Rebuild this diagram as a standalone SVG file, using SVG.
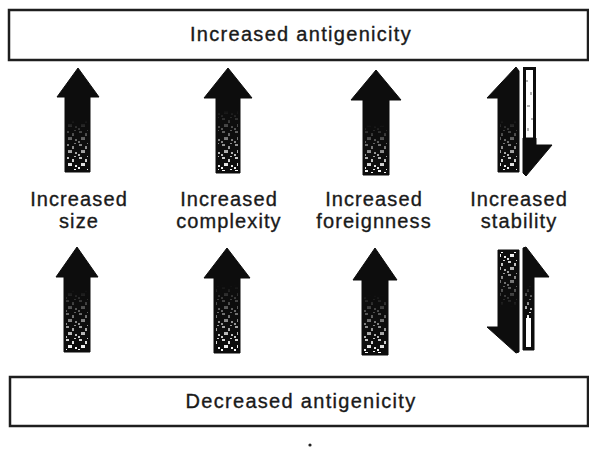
<svg xmlns="http://www.w3.org/2000/svg" width="589" height="450" viewBox="0 0 589 450">
<style>
.box{fill:#fff;stroke:#1e1e1e;stroke-width:2.5}
.t{font-family:"Liberation Sans",Arial,Helvetica,sans-serif;font-size:20px;fill:#1a1a1a;stroke:#1a1a1a;stroke-width:0.35;text-anchor:middle;letter-spacing:1.3px}
.lb{font-family:"Liberation Sans",Arial,Helvetica,sans-serif;font-size:20px;fill:#1a1a1a;stroke:#1a1a1a;stroke-width:0.35;text-anchor:middle;letter-spacing:1.1px}
.ar{fill:#0d0d0d;stroke:#0d0d0d;stroke-width:1;stroke-linejoin:round}
.sp{fill:url(#spk)}
</style>
<defs>
<pattern id="spk" width="13" height="13" patternUnits="userSpaceOnUse">
<rect x="1" y="1" width="3" height="2" fill="#fff"/>
<rect x="7" y="3" width="2" height="3" fill="#fff"/>
<rect x="3" y="7" width="4" height="3" fill="#fff"/>
<rect x="10" y="9" width="2" height="2" fill="#fff"/>
<rect x="9" y="0" width="2" height="1" fill="#fff"/>
<rect x="0" y="11" width="2" height="2" fill="#fff"/>
</pattern>
<linearGradient id="gUp" x1="0" y1="0" x2="0" y2="1">
<stop offset="0" stop-color="#000"/>
<stop offset="0.5" stop-color="#777"/>
<stop offset="1" stop-color="#fff"/>
</linearGradient>
<linearGradient id="gDown" x1="0" y1="1" x2="0" y2="0">
<stop offset="0" stop-color="#000"/>
<stop offset="0.5" stop-color="#777"/>
<stop offset="1" stop-color="#fff"/>
</linearGradient>
<mask id="fadeUp" maskContentUnits="objectBoundingBox"><rect width="1" height="1" fill="url(#gUp)"/></mask>
<mask id="fadeDown" maskContentUnits="objectBoundingBox"><rect width="1" height="1" fill="url(#gDown)"/></mask>
</defs>

<g id="increased-antigenicity">
<rect class="box" x="9" y="10" width="579" height="50"/>
<text class="t" x="301" y="41">Increased antigenicity</text>
</g>

<g id="decreased-antigenicity">
<rect class="box" x="10" y="377" width="578" height="49"/>
<text class="t" x="301" y="408">Decreased antigenicity</text>
</g>

<g id="label-size">
<text class="lb" x="79" y="206">Increased</text>
<text class="lb" x="79" y="228">size</text>
</g>
<g id="label-complexity">
<text class="lb" x="229" y="206">Increased</text>
<text class="lb" x="229" y="228">complexity</text>
</g>
<g id="label-foreignness">
<text class="lb" x="374" y="206">Increased</text>
<text class="lb" x="374" y="228">foreignness</text>
</g>
<g id="label-stability">
<text class="lb" x="519" y="206">Increased</text>
<text class="lb" x="519" y="228">stability</text>
</g>

<g id="connectors">
<!-- top row up arrows -->
<path class="ar" d="M78,68 L99,97 L90,97 L90,172 L65,172 L65,97 L57,97 Z"/>
<rect class="sp" x="67" y="120" width="21" height="50" mask="url(#fadeUp)"/>
<path class="ar" d="M228,68 L252,98 L240,98 L240,173 L216,173 L216,98 L204,98 Z"/>
<rect class="sp" x="218" y="110" width="20" height="61" mask="url(#fadeUp)"/>
<path class="ar" d="M376,70 L401,100 L389,100 L389,175 L363,175 L363,100 L351,100 Z"/>
<rect class="sp" x="365" y="125" width="22" height="48" mask="url(#fadeUp)"/>

<!-- top stability pair -->
<path class="ar" d="M516,67 L519,71 L519,172 L498,172 L498,98 L487,98 Z"/>
<rect class="sp" x="500" y="120" width="17" height="50" mask="url(#fadeUp)"/>
<rect x="524.5" y="68.5" width="10" height="76" fill="#fff" stroke="#0d0d0d" stroke-width="3"/>
<path fill="#222" opacity="0.35" d="M526,80 h2 v2 h-2 z M530,92 h2 v3 h-2 z M527,105 h3 v2 h-3 z M531,118 h2 v2 h-2 z M527,128 h2 v3 h-2 z"/>
<path class="ar" d="M523,138 L536,138 L536,145 L552,145 L526,176 L523,173 Z"/>

<!-- bottom row up arrows -->
<path class="ar" d="M77,247 L98,277 L90,277 L90,352 L64,352 L64,277 L56,277 Z"/>
<rect class="sp" x="66" y="290" width="22" height="60" mask="url(#fadeUp)"/>
<path class="ar" d="M227,248 L250,278 L240,278 L240,353 L214,353 L214,278 L204,278 Z"/>
<rect class="sp" x="216" y="285" width="22" height="66" mask="url(#fadeUp)"/>
<path class="ar" d="M375,248 L397,280 L388,280 L388,355 L362,355 L362,280 L353,280 Z"/>
<rect class="sp" x="364" y="295" width="22" height="58" mask="url(#fadeUp)"/>

<!-- bottom stability pair -->
<path class="ar" d="M498,250 L519,250 L519,352 L516,353 L487,327 L498,327 Z"/>
<rect class="sp" x="500" y="252" width="17" height="55" mask="url(#fadeDown)"/>
<path class="ar" d="M523,248 L526,247 L549,277 L534,277 L534,350 L523,350 Z"/>
<rect x="526" y="318" width="5" height="29" fill="#fff"/>
<rect class="sp" x="525" y="285" width="7" height="33" mask="url(#fadeUp)"/>
</g>

<circle cx="310" cy="445" r="1.6" fill="#222"/>
</svg>
